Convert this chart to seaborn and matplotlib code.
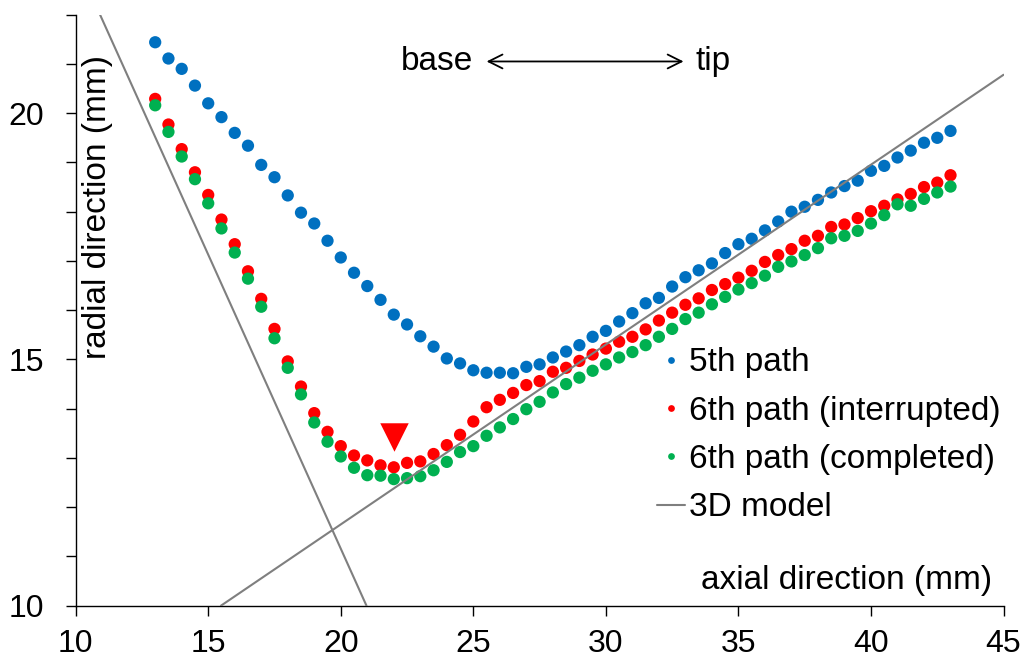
import numpy as np
import pandas as pd
import matplotlib
matplotlib.use("Agg")
import matplotlib.pyplot as plt
from matplotlib.ticker import MultipleLocator
import seaborn as sns

# ---------------- data ----------------
axial = [13.0 + 0.5 * i for i in range(61)]  # 13 ... 43 mm, 0.5 mm step

path5 = [21.44, 21.11, 20.90, 20.56, 20.20, 19.92, 19.60, 19.34, 18.95, 18.70,
         18.33, 17.98, 17.76, 17.41, 17.07, 16.76, 16.49, 16.21, 15.91, 15.71,
         15.47, 15.26, 15.02, 14.92, 14.78, 14.73, 14.73, 14.72, 14.85, 14.90,
         15.04, 15.16, 15.29, 15.46, 15.58, 15.77, 15.94, 16.14, 16.25, 16.48,
         16.67, 16.81, 16.95, 17.16, 17.34, 17.45, 17.62, 17.80, 18.00, 18.10,
         18.24, 18.39, 18.52, 18.63, 18.83, 18.93, 19.10, 19.24, 19.40, 19.50,
         19.64]

path6_interrupted = [20.29, 19.77, 19.27, 18.80, 18.34, 17.84, 17.34, 16.79, 16.23, 15.62,
                     14.96, 14.45, 13.91, 13.53, 13.24, 13.05, 12.95, 12.85, 12.81, 12.90,
                     12.93, 13.08, 13.26, 13.47, 13.74, 14.03, 14.18, 14.32, 14.48, 14.56,
                     14.75, 14.83, 14.97, 15.10, 15.22, 15.36, 15.46, 15.61, 15.79, 15.95,
                     16.11, 16.24, 16.41, 16.53, 16.66, 16.80, 16.98, 17.12, 17.24, 17.41,
                     17.51, 17.69, 17.74, 17.87, 18.01, 18.12, 18.25, 18.36, 18.50, 18.59,
                     18.74]

path6_completed = [20.16, 19.62, 19.12, 18.66, 18.17, 17.66, 17.17, 16.64, 16.07, 15.43,
                   14.83, 14.29, 13.72, 13.33, 13.03, 12.80, 12.65, 12.64, 12.57, 12.59,
                   12.63, 12.75, 12.92, 13.12, 13.24, 13.45, 13.62, 13.79, 13.99, 14.14,
                   14.33, 14.50, 14.63, 14.77, 14.90, 15.04, 15.15, 15.29, 15.46, 15.62,
                   15.82, 15.95, 16.12, 16.27, 16.42, 16.55, 16.70, 16.88, 16.99, 17.12,
                   17.26, 17.46, 17.51, 17.61, 17.76, 17.93, 18.15, 18.12, 18.26, 18.39,
                   18.51]

series_names = ["5th path", "6th path (interrupted)", "6th path (completed)"]
series_colors = ["#0070C0", "#FF0000", "#00B050"]

# 3D model contour (two straight edges)
model_base_x = [10.92, 20.97]
model_base_y = [22.0, 10.0]
model_tip_x = [15.48, 45.0]
model_tip_y = [10.0, 20.78]

# interruption marker
stop_x = [22.0]
stop_y = [13.43]

x_ticks = [10, 15, 20, 25, 30, 35, 40, 45]
y_ticks = [10, 15, 20]

# ---------------- style ----------------
sns.set_theme(style="ticks")
plt.rcParams["font.family"] = ["Liberation Sans", "DejaVu Sans"]
plt.rcParams["text.color"] = "black"
plt.rcParams["axes.labelcolor"] = "black"
plt.rcParams["xtick.color"] = "black"
plt.rcParams["ytick.color"] = "black"
FS = 24
TICK_FS = 23

fig = plt.figure(figsize=(10.28, 6.64), dpi=100)
ax = fig.add_axes([0.0736, 0.0878, 0.9026, 0.8901])

df = pd.DataFrame({
    "axial": axial * 3,
    "radial": path5 + path6_interrupted + path6_completed,
    "series": [series_names[0]] * len(axial) + [series_names[1]] * len(axial)
              + [series_names[2]] * len(axial),
})

sns.scatterplot(data=df, x="axial", y="radial", hue="series",
                hue_order=series_names, palette=series_colors,
                s=78, linewidth=0, ax=ax, zorder=3)

sns.lineplot(x=model_base_x, y=model_base_y, color="#7F7F7F", linewidth=1.5,
             ax=ax, label="3D model", zorder=4, sort=False, estimator=None)
sns.lineplot(x=model_tip_x, y=model_tip_y, color="#7F7F7F", linewidth=1.5,
             ax=ax, zorder=4, sort=False, estimator=None)

sns.scatterplot(x=stop_x, y=stop_y, marker="v", color="#FF0000", s=420,
                linewidth=0, ax=ax, zorder=5, legend=False)

# axes
ax.set_xlim(10, 45)
ax.set_ylim(10, 22)
ax.set_xticks(x_ticks)
ax.set_yticks(y_ticks)
ax.yaxis.set_minor_locator(MultipleLocator(1))
sns.despine(ax=ax)
for sp in ("left", "bottom"):
    ax.spines[sp].set_linewidth(1.0)
    ax.spines[sp].set_color("black")
ax.tick_params(axis="both", which="both", direction="out", length=7, width=1.0,
               color="black", labelsize=TICK_FS, labelcolor="black")
ax.tick_params(axis="x", which="both", pad=10)
ax.tick_params(axis="y", which="both", pad=16)
ax.set_xlabel("")
ax.set_ylabel("")

ax.text(0.024, 0.674, "radial direction (mm)", rotation=90, ha="center", va="center",
        fontsize=FS, color="black", transform=ax.transAxes)
ax.text(0.9876, 0.043, "axial direction (mm)", ha="right", va="center",
        fontsize=FS, color="black", transform=ax.transAxes)

# base <-> tip
ax.text(24.98, 21.05, "base", ha="right", va="center", fontsize=FS, color="black")
ax.text(33.38, 21.05, "tip", ha="left", va="center", fontsize=FS, color="black")
ax.annotate("", xy=(32.93, 21.05), xytext=(25.50, 21.05),
            arrowprops=dict(arrowstyle="<->", color="black", lw=1.3,
                            mutation_scale=25, shrinkA=0, shrinkB=0))

# legend
handles, labels = ax.get_legend_handles_labels()
order = [labels.index(n) for n in series_names + ["3D model"]]
leg = ax.legend([handles[i] for i in order], [labels[i] for i in order],
                loc="upper left", bbox_to_anchor=(0.6265, 0.437),
                frameon=False, fontsize=FS, handlelength=0.85, handletextpad=0.1,
                labelspacing=0.52, borderpad=0, borderaxespad=0, markerscale=0.55)
for t in leg.get_texts():
    t.set_color("black")

fig.savefig("out.png", dpi=100)
